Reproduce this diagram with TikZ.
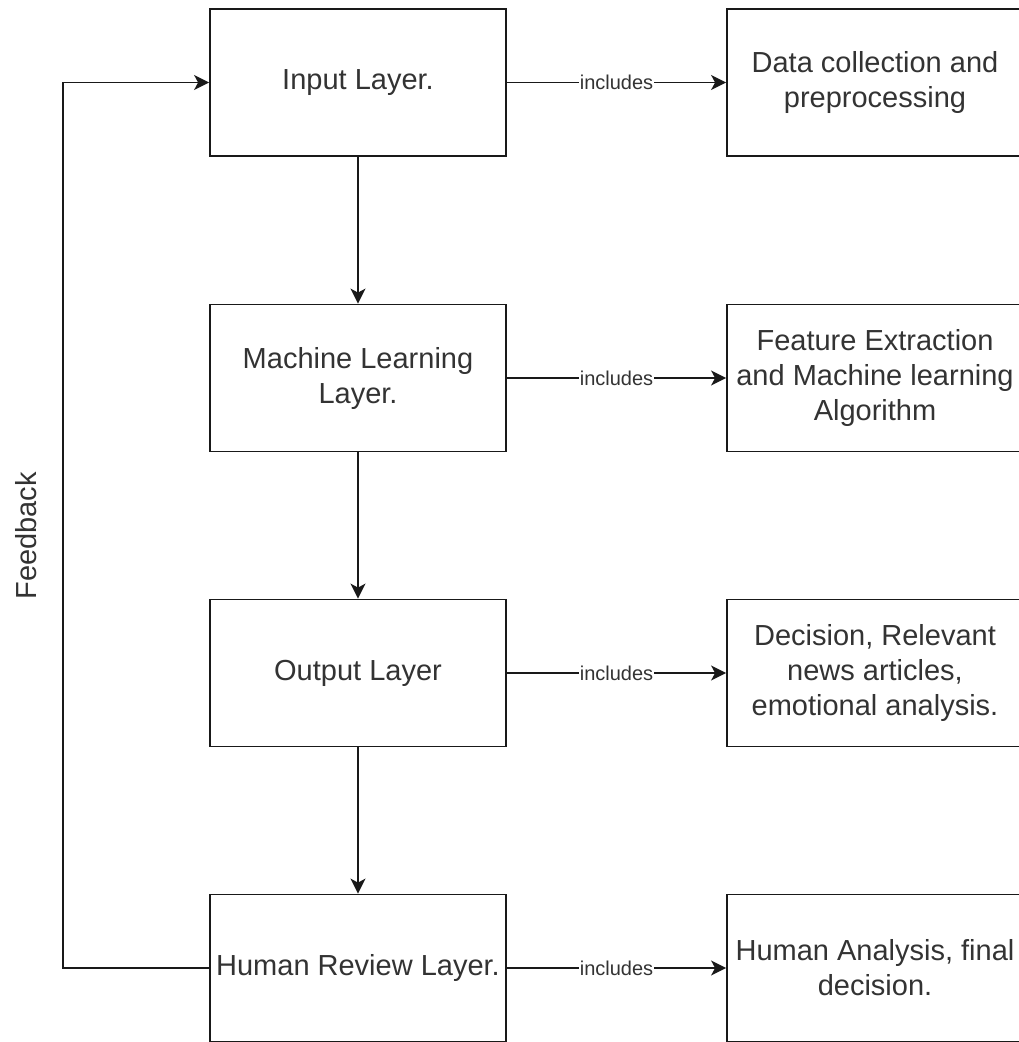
\documentclass[tikz,border=0pt]{standalone}
\usepackage{fontspec}
\setmainfont{Liberation Sans}
\usetikzlibrary{arrows.meta}
\begin{document}
\begin{tikzpicture}[x=1pt,y=-1pt,
  box/.style={draw=black!90, line width=1.8pt, minimum width=296pt, minimum height=147pt, inner sep=0pt, align=center, font=\fontsize{29}{35}\selectfont, text=black!80},
  conn/.style={line width=1.8pt, draw=black!90, -{Stealth[length=15pt,width=15pt,inset=4pt]}},
  lbl/.style={fill=white, inner sep=1pt, font=\fontsize{20}{24}\selectfont, text=black!80}
]
\useasboundingbox (0,0) rectangle (1018,1042);
\fill[white] (0,0) rectangle (1018,1042);

\node[box] (in) at (358,82.5) {Input Layer.};
\node[box] (ml) at (358,378) {Machine Learning\\Layer.};
\node[box] (out) at (358,673) {Output Layer};
\node[box] (hr) at (358,968) {Human Review Layer.};

\node[box] (din) at (875,82.5) {Data collection and\\preprocessing};
\node[box] (dml) at (875,378) {Feature Extraction\\and Machine learning\\Algorithm};
\node[box] (dout) at (875,673) {Decision, Relevant\\news articles,\\emotional analysis.};
\node[box] (dhr) at (875,968) {Human Analysis, final\\decision.};

\draw[conn] (in) -- (ml);
\draw[conn] (ml) -- (out);
\draw[conn] (out) -- (hr);

\draw[conn] (in) -- node[lbl] {includes} (din);
\draw[conn] (ml) -- node[lbl] {includes} (dml);
\draw[conn] (out) -- node[lbl] {includes} (dout);
\draw[conn] (hr) -- node[lbl] {includes} (dhr);

\coordinate (fb1) at (63,968);
\coordinate (fb2) at (63,82.5);
\draw[conn] (hr.west) -- (fb1) -- (fb2) -- (in.west);

\node[rotate=90, font=\fontsize{29}{35}\selectfont, text=black!80] (fbl) at (26,536) {Feedback};
\end{tikzpicture}
\end{document}
